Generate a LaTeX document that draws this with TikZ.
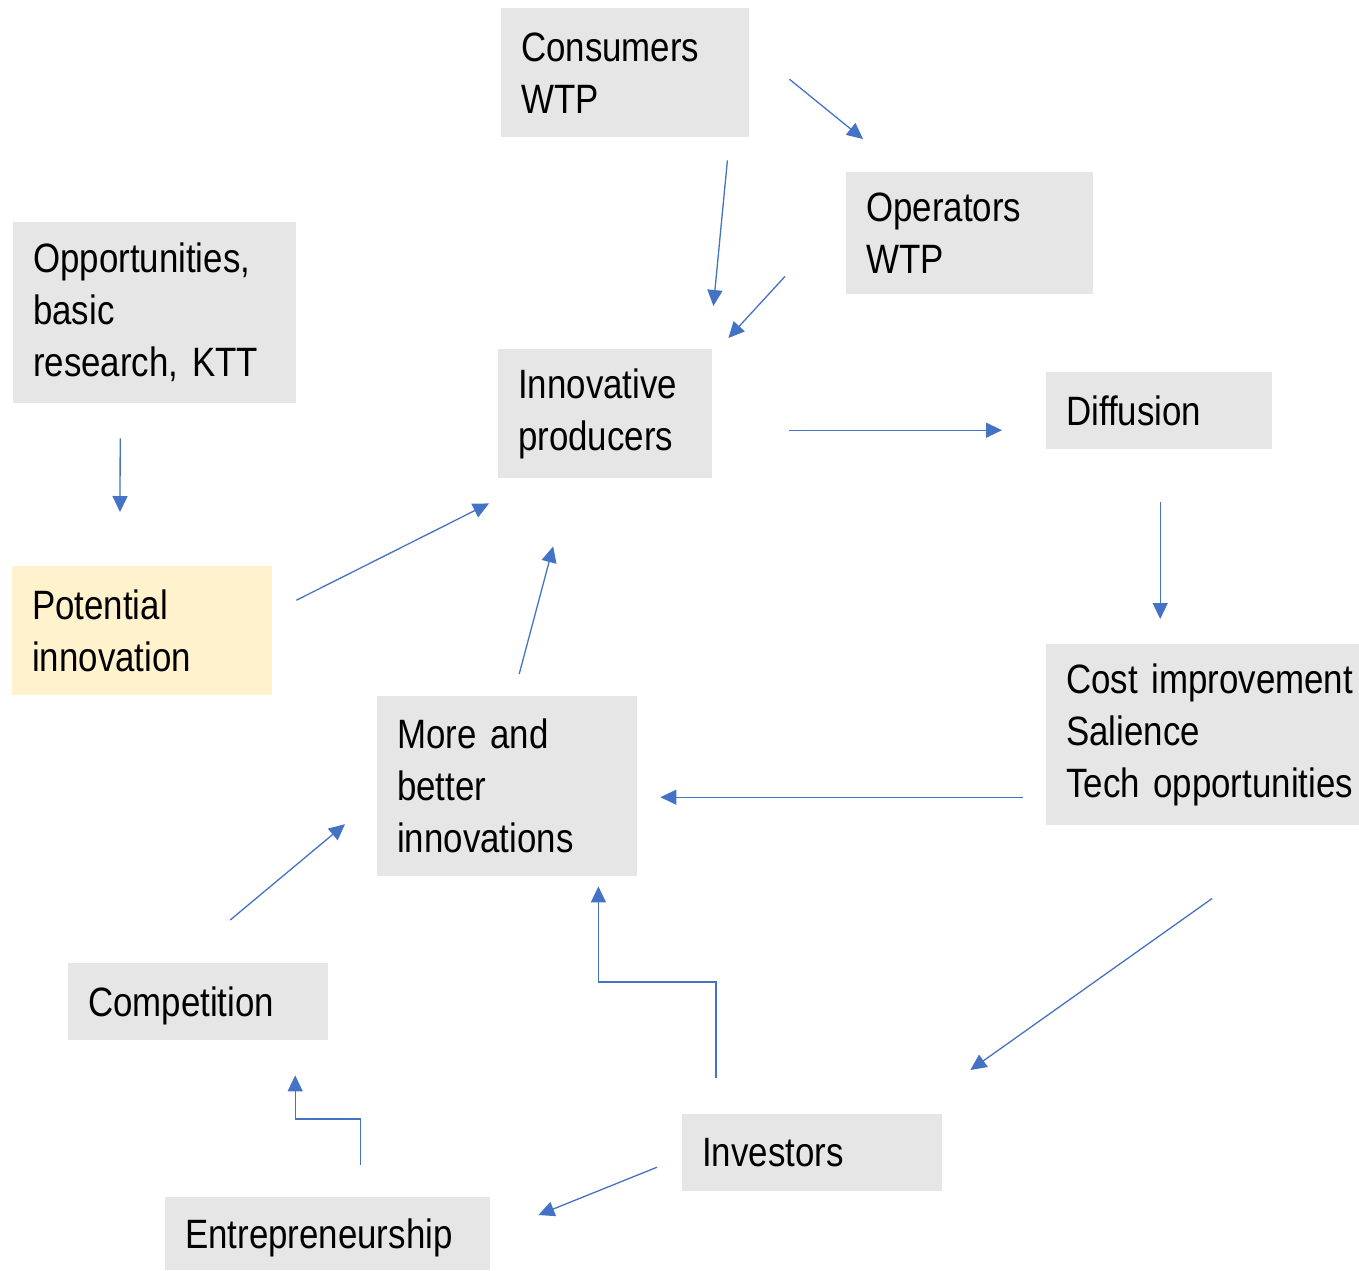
\documentclass[tikz,border=0pt]{standalone}
\usepackage{fontspec}
\setmainfont{Liberation Sans}[FakeStretch=0.85,WordSpace=0.85]
\usetikzlibrary{arrows.meta,calc}
\definecolor{boxgray}{HTML}{E7E6E6}
\definecolor{boxyellow}{HTML}{FFF2CC}
\definecolor{arrowblue}{HTML}{4472C4}
\begin{document}
\begin{tikzpicture}[x=1pt,y=-1pt,
  box/.style={fill=boxgray, draw=none, anchor=north west, align=left,
    inner xsep=20pt, inner ysep=0pt, font=\fontsize{41pt}{52pt}\selectfont},
  ybox/.style={box, fill=boxyellow},
  arr/.style={draw=arrowblue, line width=1.3pt,
    -{Triangle[length=16pt,width=15pt]}}]
\useasboundingbox (0,0) rectangle (1359,1270);

% boxes: text width = box width - 40, minimum height = box height
\node[box, text width=208pt, minimum height=129pt] (cons) at (501,8) {Consumers\\WTP};
\node[box, text width=207pt, minimum height=122pt] (oper) at (846,172) {Operators\\WTP};
\node[box, text width=243pt, minimum height=181pt] (opp) at (13,222) {Opportunities,\\basic\\\mbox{research, KTT}};
\node[ybox, text width=220pt, minimum height=129pt] (pot) at (12,566) {Potential\\innovation};
\node[box, text width=174pt, minimum height=129pt] (innov) at (498,349) {Innovative\\producers};
\node[box, text width=186pt, minimum height=77pt] (diff) at (1046,372) {Diffusion};
\node[box, text width=273pt, minimum height=181pt] (cost) at (1046,644) {\mbox{Cost improvement}\\Salience\\\mbox{Tech opportunities}};
\node[box, text width=220pt, minimum height=180pt] (more) at (377,696) {More and\\better\\innovations};
\node[box, text width=220pt, minimum height=77pt, text depth=0pt] (comp) at (68,963) {Competition};
\node[box, text width=220pt, minimum height=77pt] (inv) at (682,1114) {Investors};
\node[box, text width=285pt, minimum height=73pt, text depth=0pt] (entr) at (165,1197) {\mbox{Entrepreneurship}};

% connectors
\draw[arr] ($(cons.east)+(40,6.5)$) -- ($(oper.north west)+(17,-33)$);
\draw[arr] ($(cons.south east)+(-22,23)$) -- ($(innov.north east)+(1,-43)$);
\draw[arr] ($(oper.south west)+(-61,-18)$) -- ($(innov.north east)+(16,-11)$);
\draw[arr] ($(opp.south)+(-34.5,35)$) -- ($(pot.north west)+(108,-54)$);
\draw[arr] ($(pot.east)+(24,-30.5)$) -- ($(innov.south west)+(-9,25)$);
\draw[arr] ($(more.north)+(12,-22)$) -- ($(innov.south)+(-52,68)$);
\draw[arr] ($(innov.east)+(77,16.5)$) -- ($(diff.west)+(-44,19.5)$);
\draw[arr] ($(diff.south)+(1,53)$) -- ($(cost.north)+(-42.5,-25)$);
\draw[arr] ($(cost.west)+(-23,62.5)$) -- ($(more.east)+(23,11)$);
\draw[arr] ($(cost.south)+(9.5,73)$) -- ($(inv.north east)+(28,-44)$);
\draw[arr] ($(inv.north west)+(34,-36)$) -- ++(0,-96) -| ($(more.south east)+(-39,10)$);
\draw[arr] ($(comp.north)+(32,-43)$) -- ($(more.west)+(-32,38)$);
\draw[arr] ($(inv.west)+(-25,14.5)$) -- ($(entr.north east)+(48,18)$);
\draw[arr] ($(entr.north)+(32.5,-32)$) -- ++(0,-46) -| ($(comp.south)+(97,35)$);
\end{tikzpicture}
\end{document}
